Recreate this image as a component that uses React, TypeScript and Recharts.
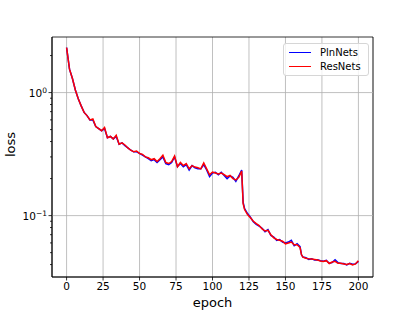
import {
  CartesianGrid,
  Legend,
  Line,
  LineChart,
  ReferenceArea,
  ReferenceLine,
  XAxis,
  YAxis,
} from "recharts";

const epochs = [
  0, 2, 4, 6, 8, 10, 12, 14, 16, 18, 20, 22, 24, 26, 28, 30, 32, 34, 36, 38, 40, 42, 44, 46, 48, 50, 52, 54, 56, 58,
  60, 62, 64, 66, 68, 70, 72, 74, 76, 78, 80, 82, 84, 86, 88, 90, 92, 94, 96, 98, 100, 102, 104, 106, 108, 110, 112,
  114, 116, 118, 120, 121, 122, 124, 126, 128, 130, 132, 134, 136, 138, 140, 142, 144, 146, 148, 150, 152, 154, 156,
  158, 160, 161, 162, 164, 166, 168, 170, 172, 174, 176, 178, 180, 182, 184, 186, 188, 190, 192, 194, 196, 198, 200,
];

const plnNets = [
  2.32, 1.55, 1.3, 1.05, 0.89, 0.78, 0.69, 0.65, 0.6, 0.6, 0.53, 0.51, 0.49, 0.51, 0.43, 0.44, 0.42, 0.44, 0.38, 0.39,
  0.37, 0.355, 0.34, 0.33, 0.33, 0.32, 0.31, 0.3, 0.29, 0.28, 0.285, 0.27, 0.285, 0.3, 0.265, 0.26, 0.27, 0.3, 0.25,
  0.265, 0.25, 0.26, 0.235, 0.255, 0.245, 0.24, 0.24, 0.26, 0.235, 0.208, 0.222, 0.225, 0.215, 0.225, 0.212, 0.2, 0.21,
  0.205, 0.19, 0.21, 0.235, 0.128, 0.114, 0.104, 0.097, 0.089, 0.085, 0.082, 0.079, 0.074, 0.077, 0.069, 0.067, 0.063,
  0.064, 0.061, 0.06, 0.061, 0.063, 0.057, 0.059, 0.056, 0.048, 0.046, 0.0455, 0.044, 0.0445, 0.0435, 0.0438, 0.043,
  0.0425, 0.0432, 0.041, 0.0415, 0.0438, 0.0415, 0.0408, 0.0408, 0.0398, 0.041, 0.0402, 0.0405, 0.0425,
];

const resNets = [
  2.32, 1.55, 1.3, 1.05, 0.89, 0.78, 0.69, 0.65, 0.6, 0.61, 0.53, 0.51, 0.49, 0.52, 0.43, 0.44, 0.42, 0.45, 0.38, 0.39,
  0.375, 0.355, 0.34, 0.33, 0.335, 0.32, 0.315, 0.3, 0.295, 0.285, 0.29, 0.275, 0.29, 0.31, 0.27, 0.265, 0.275, 0.305,
  0.25, 0.27, 0.255, 0.265, 0.24, 0.255, 0.248, 0.245, 0.24, 0.268, 0.24, 0.215, 0.226, 0.222, 0.218, 0.222, 0.215,
  0.207, 0.212, 0.2, 0.195, 0.205, 0.23, 0.125, 0.112, 0.102, 0.096, 0.09, 0.086, 0.083, 0.078, 0.075, 0.076, 0.07,
  0.066, 0.064, 0.063, 0.062, 0.059, 0.06, 0.061, 0.058, 0.058, 0.055, 0.048, 0.046, 0.045, 0.0445, 0.0443, 0.044,
  0.0435, 0.0428, 0.0423, 0.043, 0.0408, 0.042, 0.0425, 0.041, 0.041, 0.0405, 0.04, 0.0407, 0.0398, 0.0405, 0.043,
];

const xTicks = [0, 25, 50, 75, 100, 125, 150, 175, 200];
const yMajor = [0.1, 1];
const yMinor = [0.04, 0.05, 0.06, 0.07, 0.08, 0.09, 0.2, 0.3, 0.4, 0.5, 0.6, 0.7, 0.8, 0.9, 2];
const yExponent: Record<string, string> = { "0.1": "\u22121", "1": "0" };

const data = epochs.map((epoch, i) => ({ epoch, pln: plnNets[i], res: resNets[i] }));

const FONT = "DejaVu Sans, sans-serif";

function YTick(props: any) {
  const { x, y, payload } = props;
  const major = yMajor.includes(payload.value);
  return (
    <g>
      <line x1={x} x2={x - (major ? 3.5 : 2)} y1={y} y2={y} stroke="#000" strokeWidth={0.8} />
      {major && (
        <text x={x - 5} y={y} dy="0.4em" textAnchor="end" fontSize={10.5} fill="#000" fontFamily={FONT}>
          10
          <tspan dy="-0.5em" fontSize={7.5}>
            {yExponent[String(payload.value)]}
          </tspan>
        </text>
      )}
    </g>
  );
}

function LegendBox() {
  const row = (color: string, label: string) => (
    <div style={{ display: "flex", alignItems: "center", height: 13.5 }}>
      <div style={{ width: 22, height: 0, borderTop: `1.5px solid ${color}`, marginRight: 9 }} />
      <span style={{ fontSize: 10, fontFamily: FONT, color: "#000" }}>{label}</span>
    </div>
  );
  return (
    <div
      style={{
        border: "1px solid #d6d6d6",
        borderRadius: 3,
        background: "rgba(255,255,255,0.8)",
        padding: "2px 4px 2px 5px",
        boxSizing: "border-box",
      }}
    >
      {row("#0000ff", "PlnNets")}
      {row("#ff0000", "ResNets")}
    </div>
  );
}

export default function App() {
  return (
    <div style={{ position: "fixed", left: 0, top: 0, width: 415, height: 311, background: "#fff" }}>
      <LineChart width={415} height={311} data={data} margin={{ top: 37, right: 42, bottom: 0, left: 0 }}>
        <CartesianGrid horizontal={false} stroke="#b0b0b0" strokeWidth={0.8} />
        <XAxis
          dataKey="epoch"
          type="number"
          domain={[-10, 210]}
          ticks={xTicks}
          height={34}
          tickSize={3.5}
          tickMargin={2}
          tickLine={{ stroke: "#000", strokeWidth: 0.8 }}
          axisLine={{ stroke: "#000", strokeWidth: 0.8 }}
          tick={{ fill: "#000", fontSize: 10.5, fontFamily: FONT }}
          label={{ value: "epoch", position: "insideBottom", offset: 4, fill: "#000", fontSize: 13, fontFamily: FONT }}
          allowDataOverflow
        />
        <YAxis
          scale="log"
          domain={[0.0317, 2.83]}
          ticks={[...yMinor, ...yMajor].sort((a, b) => a - b)}
          width={52}
          tickSize={0}
          tickMargin={0}
          tickLine={false}
          tick={<YTick />}
          interval={0}
          axisLine={{ stroke: "#000", strokeWidth: 0.8 }}
          label={{ value: "loss", angle: -90, position: "insideLeft", offset: 10, fill: "#000", fontSize: 13, fontFamily: FONT }}
          allowDataOverflow
        />
        {yMajor.map((v) => (
          <ReferenceLine key={v} y={v} stroke="#b0b0b0" strokeWidth={0.8} />
        ))}
        <ReferenceArea x1={-10} x2={210} y1={0.0317} y2={2.83} fill="none" stroke="#000" strokeWidth={0.8} />
        <Legend
          verticalAlign="middle"
          align="center"
          content={<LegendBox />}
          wrapperStyle={{ position: "absolute", left: 283, top: 43, width: 86 }}
        />
        <Line dataKey="pln" name="PlnNets" stroke="#0000ff" strokeWidth={1.5} dot={false} isAnimationActive={false} />
        <Line dataKey="res" name="ResNets" stroke="#ff0000" strokeWidth={1.5} dot={false} isAnimationActive={false} />
      </LineChart>
    </div>
  );
}
